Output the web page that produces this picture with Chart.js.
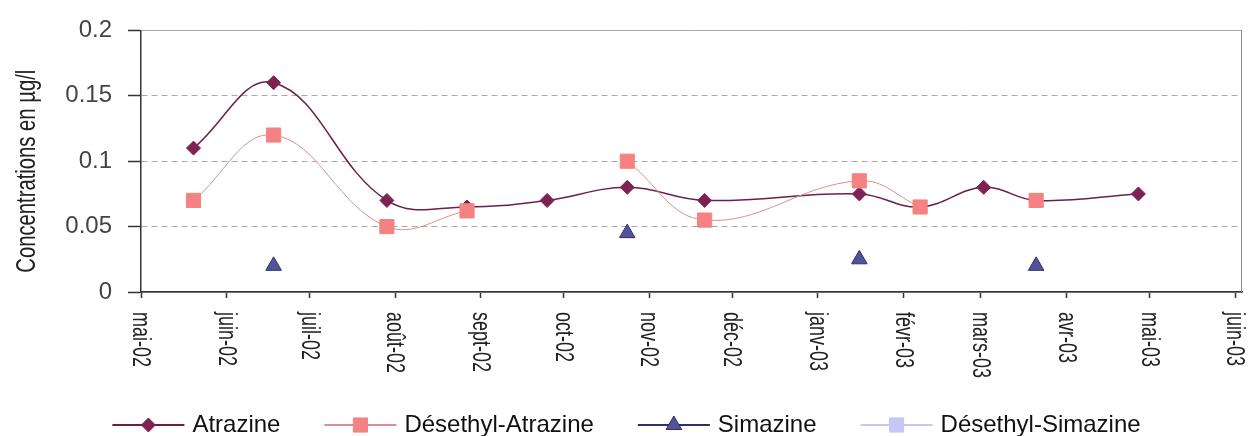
<!DOCTYPE html>
<html>
<head>
<meta charset="utf-8">
<script src="https://cdn.jsdelivr.net/npm/chart.js@4/dist/chart.umd.min.js"></script>
<style>
  html, body { margin: 0; padding: 0; background: #fff; }
  #wrap { width: 1253px; height: 436px; position: relative; }
</style>
</head>
<body>
<div id="wrap"><canvas id="chart"></canvas></div>
<script>
// one sampling campaign per entry
const sampleDates = ["2002-05-20", "2002-06-18", "2002-07-29", "2002-08-27", "2002-09-25", "2002-10-24",
                     "2002-11-21", "2003-01-16", "2003-02-07", "2003-03-02", "2003-03-21", "2003-04-27"];

const atrazine         = [0.11, 0.16, 0.07, 0.065, 0.07, 0.08, 0.07, 0.075, 0.065, 0.08, 0.07, 0.075];
const desethylAtrazine = [0.07, 0.12, 0.05, 0.062, null, 0.10, 0.055, 0.085, 0.065, null, 0.07, null];
const simazine         = [null, 0.02, null, null, null, 0.045, null, 0.025, null, null, 0.02, null];
const desethylSimazine = [null, null, null, null, null, null, null, null, null, null, null, null];

const monthTicks  = ["2002-05-01", "2002-06-01", "2002-07-01", "2002-08-01", "2002-09-01", "2002-10-01", "2002-11-01",
                     "2002-12-01", "2003-01-01", "2003-02-01", "2003-03-01", "2003-04-01", "2003-05-01", "2003-06-01"];
const monthLabels = ["mai-02", "juin-02", "juil-02", "août-02", "sept-02", "oct-02", "nov-02",
                     "déc-02", "janv-03", "févr-03", "mars-03", "avr-03", "mai-03", "juin-03"];

const yTicks      = [0, 0.05, 0.1, 0.15, 0.2];
const yTickLabels = ["0", "0.05", "0.1", "0.15", "0.2"];

const yTitle = "Concentrations en µg/l";

// days counted from 1 May 2002
const origin = Date.UTC(2002, 4, 1);
function dayOf(s) {
    const [y, m, d] = s.split("-").map(Number);
    return (Date.UTC(y, m - 1, d) - origin) / 86400000;
}

function toPoints(values) {
    return sampleDates.map((d, i) => ({ x: dayOf(d), y: values[i] }));
}

const textFont = '"Liberation Sans", Arial, sans-serif';

// frame on the right side of the plot
const frame = {
    id: "frame",
    beforeDatasetsDraw(chart) {
        const { ctx, chartArea: a } = chart;
        ctx.save();
        ctx.strokeStyle = "#8c8c8c";
        ctx.lineWidth = 1;
        ctx.beginPath();
        ctx.moveTo(a.right - 0.5, a.top);
        ctx.lineTo(a.right - 0.5, a.bottom);
        ctx.stroke();
        ctx.restore();
    }
};

// rotated month labels (top to bottom) and y title, narrow like the original
const axisText = {
    id: "axisText",
    afterDraw(chart) {
        const { ctx, chartArea: a } = chart;
        const xs = chart.scales.x;
        ctx.save();
        ctx.fillStyle = "#222";
        ctx.font = "25px " + textFont;
        ctx.textAlign = "left";
        ctx.textBaseline = "middle";
        monthTicks.forEach((d, i) => {
            ctx.save();
            ctx.translate(xs.getPixelForValue(dayOf(d)) - 1, a.bottom + 20);
            ctx.rotate(Math.PI / 2);
            ctx.scale(0.72, 1);
            ctx.fillText(monthLabels[i], 0, 0);
            ctx.restore();
        });

        ctx.font = "27px " + textFont;
        ctx.textAlign = "center";
        ctx.translate(28, (a.top + a.bottom) / 2 + 10);
        ctx.rotate(-Math.PI / 2);
        ctx.scale(0.75, 1);
        ctx.fillText(yTitle, 0, 0);
        ctx.restore();
    }
};

// legend: line with marker, then the label
const legendRow = {
    id: "legendRow",
    afterDraw(chart) {
        const ctx = chart.ctx;
        const y = chart.height - 11;
        const lineLen = 72, gapText = 8, gapItem = 44;
        ctx.save();
        ctx.font = "24px " + textFont;
        const items = chart.data.datasets.map(ds => ({ ds, w: ctx.measureText(ds.label).width }));
        const total = items.reduce((s, it) => s + lineLen + gapText + it.w, 0) + gapItem * (items.length - 1);
        let x = (chart.width - total) / 2;
        items.forEach(({ ds, w }) => {
            ctx.strokeStyle = ds.borderColor;
            ctx.lineWidth = 2;
            ctx.beginPath();
            ctx.moveTo(x, y);
            ctx.lineTo(x + lineLen, y);
            ctx.stroke();

            ctx.fillStyle = ds.pointBackgroundColor;
            ctx.strokeStyle = ds.pointBorderColor;
            ctx.lineWidth = ds.pointBorderWidth;
            Chart.helpers.drawPoint(ctx, {
                pointStyle: ds.pointStyle,
                radius: ds.pointRadius,
                rotation: 0,
                borderWidth: ds.pointBorderWidth
            }, x + lineLen / 2, y);

            ctx.fillStyle = "#111";
            ctx.textAlign = "left";
            ctx.textBaseline = "middle";
            ctx.fillText(ds.label, x + lineLen + gapText, y);
            x += lineLen + gapText + w + gapItem;
        });
        ctx.restore();
    }
};

new Chart(document.getElementById("chart"), {
    type: "line",
    data: {
        datasets: [
            {
                label: "Atrazine",
                data: toPoints(atrazine),
                borderColor: "#6b2048",
                borderWidth: 1.5,
                pointStyle: "rectRot",
                pointRadius: 7,
                pointBackgroundColor: "#7d2353",
                pointBorderColor: "#7d2353",
                pointBorderWidth: 1,
                order: 3
            },
            {
                label: "Désethyl-Atrazine",
                data: toPoints(desethylAtrazine),
                borderColor: "#dc8e8e",
                borderWidth: 1,
                pointStyle: "rect",
                pointRadius: 10,
                pointBackgroundColor: "#f58282",
                pointBorderColor: "#f58282",
                pointBorderWidth: 1,
                order: 2
            },
            {
                label: "Simazine",
                data: toPoints(simazine),
                borderColor: "#2f2f6a",
                borderWidth: 1.5,
                pointStyle: "triangle",
                pointRadius: 9,
                pointBackgroundColor: "#53539c",
                pointBorderColor: "#2f2f6a",
                pointBorderWidth: 1,
                order: 1
            },
            {
                label: "Désethyl-Simazine",
                data: toPoints(desethylSimazine),
                borderColor: "#c6c6f7",
                borderWidth: 1.5,
                pointStyle: "rect",
                pointRadius: 10,
                pointBackgroundColor: "#c6c6f7",
                pointBorderColor: "#c6c6f7",
                pointBorderWidth: 1,
                order: 0
            }
        ]
    },
    options: {
        responsive: true,
        maintainAspectRatio: false,
        animation: false,
        spanGaps: false,
        elements: { line: { tension: 0.4 } },
        layout: { padding: { top: 27, right: 3, left: 0, bottom: 0 } },
        plugins: {
            legend: { display: false },
            tooltip: { enabled: false }
        },
        scales: {
            x: {
                type: "linear",
                min: 0,
                max: 398.5,
                afterBuildTicks: scale => {
                    scale.ticks = monthTicks.map(d => ({ value: dayOf(d) }));
                },
                afterFit: scale => { scale.height = 144; },
                ticks: { display: false },
                grid: {
                    drawOnChartArea: false,
                    drawTicks: true,
                    tickLength: 6,
                    tickColor: "#333",
                    tickWidth: 1.5
                },
                border: { color: "#333", width: 1.5 }
            },
            y: {
                min: 0,
                max: 0.2,
                afterBuildTicks: scale => {
                    scale.ticks = yTicks.map(v => ({ value: v }));
                },
                afterFit: scale => { scale.width = 141; },
                ticks: {
                    padding: 16,
                    color: "#444",
                    font: { family: textFont, size: 24 },
                    callback: (v, i) => yTickLabels[i]
                },
                grid: {
                    color: "#a8a8a8",
                    lineWidth: 1,
                    tickLength: 13,
                    tickColor: "#333",
                    tickWidth: 1.5
                },
                border: {
                    color: "#333",
                    width: 1.5,
                    dash: ctx => (ctx.tick && ctx.tick.value > 0 && ctx.tick.value < 0.2) ? [6, 4] : []
                }
            }
        }
    },
    plugins: [frame, axisText, legendRow]
});
</script>
</body>
</html>
